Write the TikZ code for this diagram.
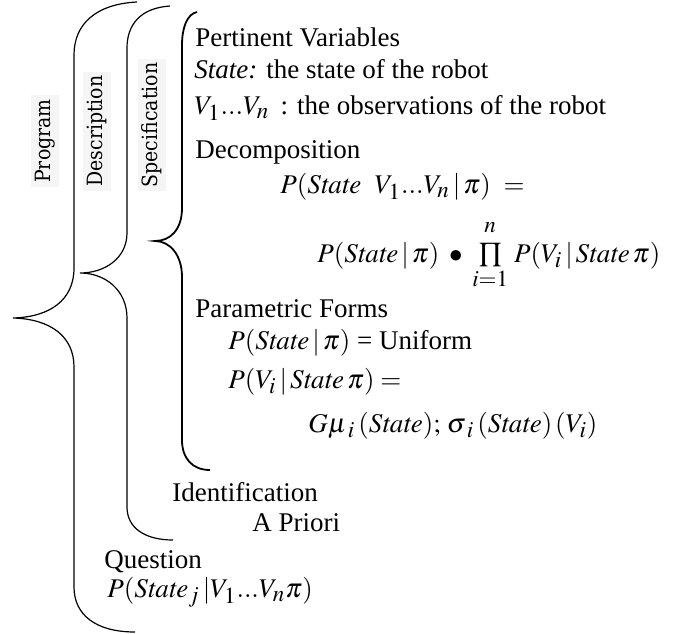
\documentclass[tikz,border=0pt]{standalone}
\usepackage{amsmath}
\usepackage{mathptmx}
\usepackage{fontspec}
\setmainfont{Liberation Serif}
\newfontfamily\slabfont[FakeStretch=0.9]{DejaVu Serif}
\DeclareMathSizes{13.5}{13.5}{11.5}{9}
\newcommand{\St}{\mathit{State}}

\begin{document}
\begin{tikzpicture}[x=0.5pt,y=-0.5pt]
    \tikzstyle{txt}=[anchor=base west,inner sep=0pt,font=\fontsize{13.5}{16}\selectfont]
    \tikzstyle{lbl}=[rotate=90,fill=black!4,inner sep=2pt,font=\slabfont\fontsize{10.5}{12}\selectfont]
    \useasboundingbox (0,0) rectangle (675,633);
    % the three braces
    \draw[line width=0.6pt] (137,2) .. controls (96,4) and (74,24) .. (74,55) -- (74,268)
      .. controls (74,300) and (50,317) .. (13,318) .. controls (50,319) and (74,336) .. (74,367)
      -- (74,587) .. controls (74,615) and (96,632) .. (135,632);
    \draw[line width=0.6pt] (170,6) .. controls (140,8) and (127,25) .. (127,48) -- (127,233)
      .. controls (127,258) and (105,273) .. (80,273) .. controls (105,273) and (127,290) .. (127,318)
      -- (127,507) .. controls (127,528) and (145,540) .. (173,540);
    \draw[line width=0.9pt] (197,12) .. controls (187,14) and (182,28) .. (182,45) -- (182,208)
      .. controls (182,230) and (170,241) .. (155,241) .. controls (170,241) and (182,255) .. (182,277)
      -- (182,440) .. controls (182,458) and (192,470) .. (210,470);
    % side labels
    \node[lbl] (prog) at (45,141) {Program};
    \node[lbl] (desc) at (97,131) {Description};
    \node[lbl] (spec) at (152,125) {Specification};
    % specification
    \node[txt] (pv) at (195,46) {Pertinent Variables};
    \node[txt] (st) at (194,78) {\textit{State:} the state of the robot};
    \node[txt] (obs) at (194,114) {$V_1...V_n$ \,: the observations of the robot};
    \node[txt] (dec) at (195,158) {Decomposition};
    \node[txt] (joint) at (280,193) {$P(\St\ \ V_1...V_n\,|\,\pi)\ =$};
    \node[txt] (prod) at (317,262) {$P(\St\,|\,\pi)\;\bullet\;\prod\limits_{i=1}^{\raisebox{3pt}{$\scriptstyle n$}}\,P(V_i\,|\,\St\,\pi)$};
    \node[txt] (pf) at (195,317) {Parametric Forms};
    \node[txt] (unif) at (228,349) {$P(\St\,|\,\pi)$ = Uniform};
    \node[txt] (cond) at (228,388) {$P(V_i\,|\,\St\,\pi) =$};
    \node[txt] (gauss) at (308,432) {$G\mu_{\mkern3mu i}\,(\St);\,\sigma_{\mkern3mu i}\,(\St)\,(V_i)$};
    % identification and question
    \node[txt] (ident) at (172,501) {Identification};
    \node[txt] (prior) at (252,531) {A Priori};
    \node[txt] (quest) at (104,568) {Question};
    \node[txt] (qform) at (107,597) {$P(\St_j\,|V_1...V_n\pi)$};
\end{tikzpicture}
\end{document}
